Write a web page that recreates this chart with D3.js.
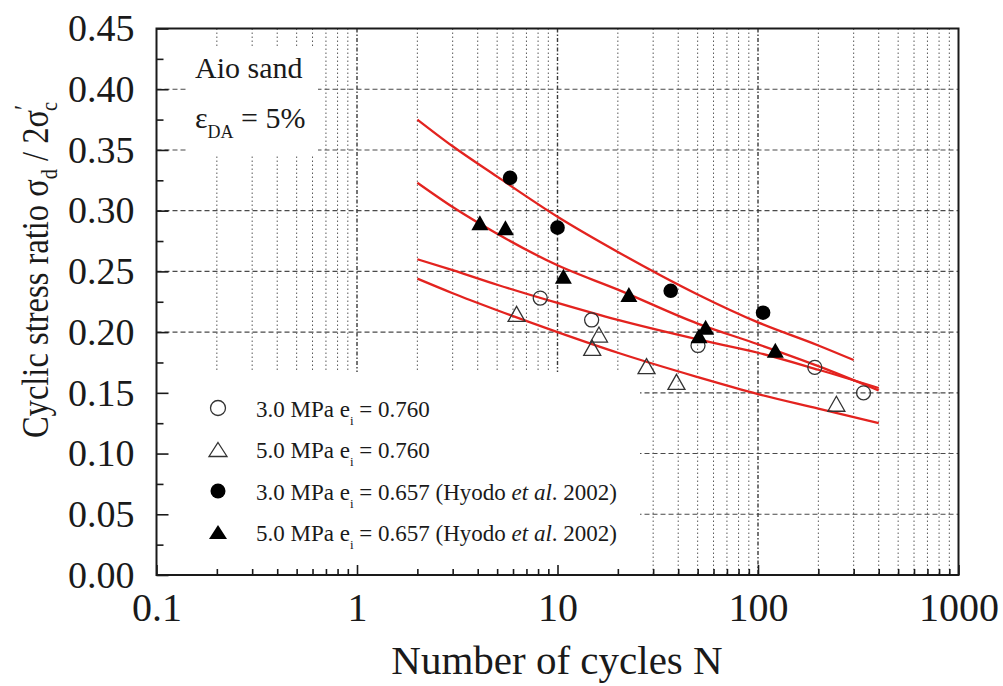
<!DOCTYPE html>
<html>
<head>
<meta charset="utf-8">
<script src="https://cdn.jsdelivr.net/npm/d3@7"></script>
<style>
  body { margin: 0; background: #fff; }
  svg { display: block; }
  text { font-family: "Liberation Serif", "Times New Roman", serif; fill: #1a1a1a; }
</style>
</head>
<body>
<svg id="chart" width="1003" height="686"></svg>
<script>
// ---- data: cyclic stress ratio vs number of cycles to reach eps_DA = 5% ----
const openCircleN   = [8.2, 14.8, 50.2, 192, 336];
const openCircleCSR = [0.228, 0.210, 0.189, 0.171, 0.150];

const openTriN   = [6.25, 16.1, 14.9, 27.8, 39.2, 246];
const openTriCSR = [0.215, 0.198, 0.187, 0.172, 0.159, 0.141];

const fillCircleN   = [5.8, 10.0, 36.7, 106];
const fillCircleCSR = [0.327, 0.286, 0.234, 0.216];

const fillTriN   = [4.1, 5.5, 10.7, 22.7, 54.8, 50.8, 122];
const fillTriCSR = [0.290, 0.286, 0.246, 0.231, 0.204, 0.197, 0.185];

// fitted strength curves (red)
const fitN_A = [2, 3, 5, 10, 20, 50, 100, 200, 300];
const fitA   = [0.375, 0.353, 0.328, 0.295, 0.266, 0.231, 0.208, 0.189, 0.177];
const fitN_B = [2, 3, 5, 10, 20, 50, 100, 200, 400];
const fitB   = [0.323, 0.303, 0.281, 0.255, 0.235, 0.207, 0.190, 0.172, 0.152];
const fitN_C = [2, 3, 5, 10, 20, 50, 100, 200, 400];
const fitC   = [0.260, 0.251, 0.239, 0.224, 0.210, 0.194, 0.183, 0.169, 0.154];
const fitN_D = [2, 3, 5, 10, 20, 50, 100, 200, 400];
const fitD   = [0.244, 0.232, 0.218, 0.200, 0.183, 0.163, 0.149, 0.137, 0.125];

// axis ticks
const yTickValues = [0, 0.05, 0.10, 0.15, 0.20, 0.25, 0.30, 0.35, 0.40, 0.45];
const yTickLabels = ["0.00", "0.05", "0.10", "0.15", "0.20", "0.25", "0.30", "0.35", "0.40", "0.45"];
const xTickValues = [0.1, 1, 10, 100, 1000];
const xTickLabels = ["0.1", "1", "10", "100", "1000"];

const legendLabels = ["3.0 MPa e", "5.0 MPa e", "3.0 MPa e", "5.0 MPa e"];
const legendVoid = ["0.760", "0.760", "0.657", "0.657"];

// ---- layout ----
const svg = d3.select("#chart");
const plotL = 156.5, plotR = 958.5, plotT = 28.5, plotB = 575;
const x = d3.scaleLog().domain([0.1, 1000]).range([plotL, plotR]);
const y = d3.scaleLinear().domain([0, 0.45]).range([plotB, plotT]);

svg.append("rect").attr("width", 1003).attr("height", 686).attr("fill", "#fff");

// minor log positions 2..9 per decade
const xMinor = [];
[0.1, 1, 10, 100].forEach(d => { for (let k = 2; k <= 9; k++) xMinor.push(d * k); });
const yMinor = d3.range(0.025, 0.45, 0.05);

// ---- grid ----
const grid = svg.append("g");
grid.selectAll("line.h").data(yTickValues.filter(v => v > 0 && v < 0.45)).join("line")
  .attr("x1", plotL).attr("x2", plotR)
  .attr("y1", d => y(d)).attr("y2", d => y(d))
  .attr("stroke", "#4a4a4a").attr("stroke-width", 1.1).attr("stroke-dasharray", "5,3");
grid.selectAll("line.vm").data(xMinor).join("line")
  .attr("x1", d => x(d)).attr("x2", d => x(d))
  .attr("y1", plotT).attr("y2", plotB)
  .attr("stroke", "#5a5a5a").attr("stroke-width", 1).attr("stroke-dasharray", "1.5,2.5");
grid.selectAll("line.vM").data([1, 10, 100]).join("line")
  .attr("x1", d => x(d)).attr("x2", d => x(d))
  .attr("y1", plotT).attr("y2", plotB)
  .attr("stroke", "#3a3a3a").attr("stroke-width", 1.4).attr("stroke-dasharray", "4,2,1.5,2");

// white panels behind the annotation and the legend
svg.append("rect").attr("x", 187).attr("y", 48).attr("width", 131).attr("height", 107).attr("fill", "#fff");
svg.append("rect").attr("x", plotL).attr("y", 372).attr("width", 640 - plotL).attr("height", plotB - 372).attr("fill", "#fff");

// ---- axes ----
const yAxis = d3.axisLeft(y).tickValues(yTickValues)
  .tickFormat((d, i) => yTickLabels[i]).tickSizeInner(-12).tickSizeOuter(0).tickPadding(22);
const gy = svg.append("g").attr("transform", `translate(${plotL},0)`).call(yAxis);
const yAxisMinor = d3.axisLeft(y).tickValues(yMinor).tickFormat("").tickSizeInner(-7).tickSizeOuter(0);
const gym = svg.append("g").attr("transform", `translate(${plotL},0)`).call(yAxisMinor);

const xAxis = d3.axisBottom(x).tickValues(xTickValues)
  .tickFormat((d, i) => xTickLabels[i]).tickSizeInner(-10).tickSizeOuter(0).tickPadding(18);
const gx = svg.append("g").attr("transform", `translate(0,${plotB})`).call(xAxis);
const xAxisMinor = d3.axisBottom(x).tickValues(xMinor).tickFormat("").tickSizeInner(-6).tickSizeOuter(0);
const gxm = svg.append("g").attr("transform", `translate(0,${plotB})`).call(xAxisMinor);

[gy, gym, gx, gxm].forEach(g => {
  g.select(".domain").remove();
  g.selectAll(".tick line").attr("stroke", "#1a1a1a").attr("stroke-width", 1.6);
  g.selectAll(".tick text").attr("fill", "#1a1a1a")
    .style("font-family", '"Liberation Serif", "Times New Roman", serif');
});
gy.selectAll(".tick text").attr("font-size", 38);
gx.selectAll(".tick text").attr("font-size", 40);

// frame
svg.append("rect").attr("x", plotL).attr("y", plotT).attr("width", plotR - plotL).attr("height", plotB - plotT)
  .attr("fill", "none").attr("stroke", "#1a1a1a").attr("stroke-width", 2);

// ---- fitted curves ----
const line = d3.line().x(d => x(d[0])).y(d => y(d[1])).curve(d3.curveMonotoneX);
const fits = [[fitN_A, fitA], [fitN_B, fitB], [fitN_C, fitC], [fitN_D, fitD]];
svg.append("g").selectAll("path").data(fits).join("path")
  .attr("d", f => line(f[0].map((n, i) => [n, f[1][i]])))
  .attr("fill", "none").attr("stroke", "#e3231f").attr("stroke-width", 2.3);

// ---- markers ----
const triPath = (cx, cy, w, h) => `M${cx},${cy - h / 2}L${cx + w / 2},${cy + h / 2}L${cx - w / 2},${cy + h / 2}Z`;
const pts = (ns, vs) => ns.map((n, i) => [n, vs[i]]);
const mk = svg.append("g");
mk.selectAll("circle.o").data(pts(openCircleN, openCircleCSR)).join("circle")
  .attr("cx", d => x(d[0])).attr("cy", d => y(d[1])).attr("r", 7)
  .attr("fill", "none").attr("stroke", "#333").attr("stroke-width", 1.3);
mk.selectAll("path.o").data(pts(openTriN, openTriCSR)).join("path")
  .attr("d", d => triPath(x(d[0]), y(d[1]), 17, 15))
  .attr("fill", "none").attr("stroke", "#333").attr("stroke-width", 1.3);
mk.selectAll("circle.f").data(pts(fillCircleN, fillCircleCSR)).join("circle")
  .attr("cx", d => x(d[0])).attr("cy", d => y(d[1])).attr("r", 7.3)
  .attr("fill", "#000");
mk.selectAll("path.f").data(pts(fillTriN, fillTriCSR)).join("path")
  .attr("d", d => triPath(x(d[0]), y(d[1]), 17, 15))
  .attr("fill", "#000");

// ---- annotation ----
svg.append("text").attr("x", 195).attr("y", 78).attr("font-size", 30).text("Aio sand");
const eps = svg.append("text").attr("x", 195).attr("y", 128).attr("font-size", 30);
eps.append("tspan").text("\u03b5");
eps.append("tspan").attr("font-size", 18).attr("dy", 10).text("DA");
eps.append("tspan").attr("dy", -10).text(" = 5%");

// ---- legend ----
const legRowY = [408, 449.5, 491, 532];
const leg = svg.append("g");
legRowY.forEach((ry, i) => {
  const mx = 218;
  if (i === 0) leg.append("circle").attr("cx", mx).attr("cy", ry).attr("r", 7.5)
    .attr("fill", "none").attr("stroke", "#333").attr("stroke-width", 1.3);
  if (i === 1) leg.append("path").attr("d", triPath(mx, ry, 18, 14))
    .attr("fill", "none").attr("stroke", "#333").attr("stroke-width", 1.3);
  if (i === 2) leg.append("circle").attr("cx", mx).attr("cy", ry).attr("r", 7.5).attr("fill", "#000");
  if (i === 3) leg.append("path").attr("d", triPath(mx, ry, 18, 14)).attr("fill", "#000");

  const t = leg.append("text").attr("x", 256).attr("y", ry + 8.5).attr("font-size", 23);
  t.append("tspan").text(legendLabels[i]);
  t.append("tspan").attr("font-size", 13).attr("dy", 8).text("i");
  t.append("tspan").attr("dy", -8).text(" = " + legendVoid[i] + (i >= 2 ? " (Hyodo " : ""));
  if (i >= 2) {
    t.append("tspan").attr("font-style", "italic").text("et al");
    t.append("tspan").text(". 2002)");
  }
});

// ---- axis titles ----
svg.append("text").attr("x", 557).attr("y", 674).attr("text-anchor", "middle")
  .attr("font-size", 41).text("Number of cycles N");

const yt = svg.append("text").attr("transform", "translate(48,270) rotate(-90) scale(0.88,1)")
  .attr("text-anchor", "middle").attr("font-size", 37);
yt.append("tspan").text("Cyclic stress ratio \u03c3");
yt.append("tspan").attr("font-size", 23).attr("dy", 9).text("d");
yt.append("tspan").attr("dy", -9).text(" / 2\u03c3");
yt.append("tspan").attr("font-size", 27).attr("dy", -15).text("\u2032");
yt.append("tspan").attr("font-size", 23).attr("dx", -7).attr("dy", 24).text("c");
</script>
</body>
</html>
